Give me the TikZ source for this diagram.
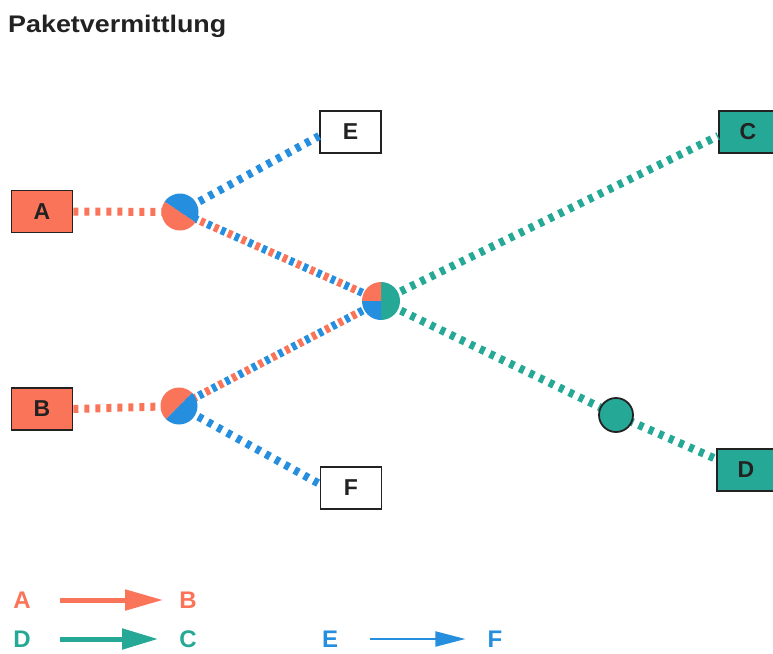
\documentclass[tikz,border=0pt]{standalone}
\usepackage{fontspec}
\setmainfont{Liberation Sans}
\usetikzlibrary{arrows.meta}
\definecolor{coral}{RGB}{250,116,90}
\definecolor{sky}{RGB}{38,142,222}
\definecolor{sea}{RGB}{38,168,150}
\definecolor{ink}{RGB}{34,34,34}
\begin{document}
\begin{tikzpicture}[x=1pt,y=-1pt,
  box/.style={draw=ink,line width=1.8pt,minimum width=61pt,minimum height=42pt,
    inner sep=0pt,font=\fontsize{23}{23}\selectfont\bfseries,text=ink},
  link/.style={line width=8pt,dash pattern=on 5pt off 6pt},
  halfa/.style={line width=8pt,dash pattern=on 4.5pt off 10.5pt},
  halfb/.style={line width=8pt,dash pattern=on 4.5pt off 10.5pt,dash phase=7.5pt},
  key/.style={font=\fontsize{24}{24}\selectfont\bfseries,inner sep=0pt},
]
\useasboundingbox (0,0) rectangle (773,653);

% title
\node[anchor=base west,inner sep=0pt,font=\fontsize{24}{24}\selectfont\bfseries,text=ink]
  (title) at (8,32) {\scalebox{1.12}[1]{Paketvermittlung}};

% end stations
\node[box,fill=coral] (A) at (42,211.5) {A};
\node[box,fill=coral] (B) at (42,409) {B};
\node[box,fill=white] (E) at (350.5,132) {E};
\node[box,fill=white] (F) at (351,488) {F};
\node[box,fill=sea,minimum width=58pt] (C) at (748,132) {C};
\node[box,fill=sea,minimum width=58pt] (D) at (746,470) {D};

% switching nodes
\coordinate (j1) at (180,212);
\coordinate (j2) at (179,406);
\coordinate (j3) at (381,301);
\coordinate (j4) at (616,415);

% single-flow links
\draw[link,coral] (A.east) -- (j1);
\draw[link,coral] (B.east) -- (j2);
\draw[link,sky] (j1) -- ([yshift=-4pt]E.west);
\draw[link,sky] (j2) -- ([yshift=4pt]F.west);
\draw[link,sea] (j3) -- ([yshift=-4pt]C.west);
\draw[link,sea] (j3) -- (j4) -- ([yshift=11pt]D.west);

% shared links, packets interleaved
\draw[halfa,sky] (j1) -- (j3);
\draw[halfb,coral] (j1) -- (j3);
\draw[halfa,coral] (j2) -- (j3);
\draw[halfb,sky] (j2) -- (j3);

% node pies
\fill[sky] (j1) ++(213.7:18.5) arc[start angle=213.7,end angle=393.7,radius=18.5] -- cycle;
\fill[coral] (j1) ++(33.7:18.5) arc[start angle=33.7,end angle=213.7,radius=18.5] -- cycle;

\fill[coral] (j2) ++(135:18.5) arc[start angle=135,end angle=315,radius=18.5] -- cycle;
\fill[sky] (j2) ++(315:18.5) arc[start angle=315,end angle=495,radius=18.5] -- cycle;

\fill[sea] (j3) ++(-90:19) arc[start angle=-90,end angle=90,radius=19] -- cycle;
\fill[coral] (j3) -- ++(180:19) arc[start angle=180,end angle=270,radius=19] -- cycle;
\fill[sky] (j3) -- ++(90:19) arc[start angle=90,end angle=180,radius=19] -- cycle;

\draw[ink,line width=1.8pt,fill=sea] (j4) circle[radius=17];

% legend
\node[key,text=coral] (kA) at (22,600) {A};
\node[key,text=coral] (kB) at (188,600) {B};
\node[key,text=sea] (kD) at (22,639) {D};
\node[key,text=sea] (kC) at (188,639) {C};
\node[key,text=sky] (kE) at (330,639) {E};
\node[key,text=sky] (kF) at (495,639) {F};

\draw[coral,line width=5pt,shorten <=29pt,shorten >=16pt,
  -{Triangle[length=38pt,width=20pt]}] (kA) -- (kB);
\draw[sea,line width=5pt,shorten <=29pt,shorten >=21pt,
  -{Triangle[length=36pt,width=20pt]}] (kD) -- (kC);
\draw[sky,line width=2pt,shorten <=32pt,shorten >=22pt,
  -{Triangle[length=30pt,width=15pt]}] (kE) -- (kF);
\end{tikzpicture}
\end{document}
